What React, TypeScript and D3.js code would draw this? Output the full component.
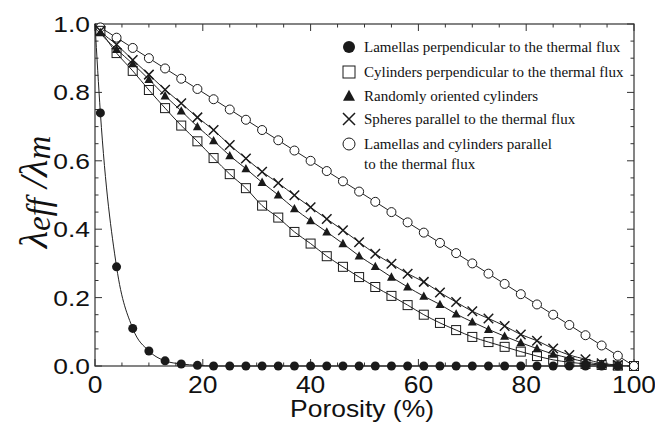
import React from "react";
import * as d3 from "d3";

// porosity (%) positions of the markers
const porosity = [1, 4, 7, 10, 13, 16, 19, 22, 25, 28, 31, 34, 37, 40, 43, 46, 49, 52, 55, 58, 61, 64, 67, 70, 73, 76, 79, 82, 85, 88, 91, 94, 97];
const porosityEnd = [...porosity, 100];

const lamellasPerp = [0.74, 0.29, 0.11, 0.044, 0.015, 0.006, 0.002, 0, 0, 0, 0, 0, 0, 0, 0, 0, 0, 0, 0, 0, 0, 0, 0, 0, 0, 0, 0, 0, 0, 0, 0, 0, 0];
const cylindersPerp = [0.98, 0.915, 0.863, 0.807, 0.754, 0.703, 0.657, 0.608, 0.561, 0.52, 0.469, 0.434, 0.392, 0.358, 0.321, 0.29, 0.26, 0.231, 0.205, 0.178, 0.15, 0.126, 0.105, 0.085, 0.07, 0.056, 0.042, 0.029, 0.018, 0.011, 0.006, 0.003, 0.001, 0];
const randomCylinders = [0.975, 0.926, 0.884, 0.838, 0.79, 0.746, 0.7, 0.659, 0.615, 0.577, 0.537, 0.5, 0.46, 0.425, 0.392, 0.358, 0.322, 0.291, 0.26, 0.231, 0.204, 0.18, 0.152, 0.129, 0.107, 0.087, 0.068, 0.051, 0.035, 0.023, 0.012, 0.005, 0.002];
const spheresPar = [0.98, 0.94, 0.895, 0.852, 0.808, 0.768, 0.727, 0.69, 0.646, 0.607, 0.568, 0.535, 0.499, 0.464, 0.43, 0.397, 0.362, 0.328, 0.299, 0.27, 0.246, 0.215, 0.187, 0.16, 0.139, 0.117, 0.092, 0.074, 0.051, 0.032, 0.02, 0.008, 0.003];
const lamCylPar = [0.99, 0.96, 0.93, 0.9, 0.87, 0.84, 0.81, 0.78, 0.75, 0.72, 0.69, 0.66, 0.63, 0.6, 0.57, 0.54, 0.51, 0.48, 0.45, 0.42, 0.39, 0.36, 0.33, 0.3, 0.27, 0.24, 0.21, 0.18, 0.15, 0.12, 0.09, 0.06, 0.03, 0];

const xTicks = [0, 20, 40, 60, 80, 100];
const yTicks = [0, 0.2, 0.4, 0.6, 0.8, 1.0];
const yTickLabels = ["0.0", "0.2", "0.4", "0.6", "0.8", "1.0"];
const legendLabels = [
  ["Lamellas perpendicular to the thermal flux"],
  ["Cylinders perpendicular to the thermal flux"],
  ["Randomly oriented cylinders"],
  ["Spheres parallel to the thermal flux"],
  ["Lamellas and cylinders parallel", "to the thermal flux"],
];
const startPoint: [number, number] = [0, 1];

type Kind = "dot" | "square" | "triangle" | "cross" | "circle";

const INK = "#1a1a1a";

function Marker({ kind, cx, cy, s }: { kind: Kind; cx: number; cy: number; s: number }) {
  const h = s / 2;
  if (kind === "dot") return <circle cx={cx} cy={cy} r={h} fill={INK} />;
  if (kind === "circle") return <circle cx={cx} cy={cy} r={h} fill="#fff" stroke={INK} strokeWidth={1} />;
  if (kind === "square")
    return <rect x={cx - h} y={cy - h} width={s} height={s} fill="none" stroke={INK} strokeWidth={1} />;
  if (kind === "triangle")
    return <path d={`M${cx},${cy - h * 1.05}L${cx + h},${cy + h * 0.8}L${cx - h},${cy + h * 0.8}Z`} fill={INK} />;
  return (
    <path
      d={`M${cx - h},${cy - h}L${cx + h},${cy + h}M${cx - h},${cy + h}L${cx + h},${cy - h}`}
      stroke={INK}
      strokeWidth={1.5}
      fill="none"
    />
  );
}

export default function App() {
  const W = 655;
  const H = 423;
  const x = d3.scaleLinear().domain([0, 100]).range([95, 634]);
  const y = d3.scaleLinear().domain([0, 1]).range([366, 24]);

  const line = d3
    .line<[number, number]>()
    .x((d) => x(d[0]))
    .y((d) => y(d[1]))
    .curve(d3.curveMonotoneX);

  const series: { kind: Kind; xs: number[]; ys: number[] }[] = [
    { kind: "circle", xs: porosityEnd, ys: lamCylPar },
    { kind: "square", xs: porosityEnd, ys: cylindersPerp },
    { kind: "cross", xs: porosity, ys: spheresPar },
    { kind: "triangle", xs: porosity, ys: randomCylinders },
    { kind: "dot", xs: porosity, ys: lamellasPerp },
  ];

  const xMinor = d3.range(0, 101, 5);
  const yMinor = d3.range(0, 1.001, 0.05);
  const [x0, x1] = x.range();
  const [y0, y1] = y.range();

  const legendKinds: Kind[] = ["dot", "square", "triangle", "cross", "circle"];
  const legendY = [47, 72, 96, 119, 144];

  return (
    <svg width={W} height={H} style={{ position: "absolute", left: 0, top: 0, background: "#fff" }}>
      <rect width={W} height={H} fill="#fff" />
      {/* frame */}
      <rect x={x0} y={y1} width={x1 - x0} height={y0 - y1} fill="none" stroke="#333" strokeWidth={1.2} />
      {/* ticks */}
      {xMinor.map((v) => {
        const major = v % 20 === 0;
        const len = major ? 7 : 3.5;
        return (
          <g key={"xt" + v} stroke="#333" strokeWidth={1}>
            <line x1={x(v)} x2={x(v)} y1={y0} y2={y0 - len} />
            <line x1={x(v)} x2={x(v)} y1={y1} y2={y1 + len} />
          </g>
        );
      })}
      {yMinor.map((v, i) => {
        const major = i % 4 === 0;
        const len = major ? 7 : 3.5;
        return (
          <g key={"yt" + i} stroke="#333" strokeWidth={1}>
            <line x1={x0} x2={x0 + len} y1={y(v)} y2={y(v)} />
            <line x1={x1} x2={x1 - len} y1={y(v)} y2={y(v)} />
          </g>
        );
      })}
      {/* tick labels */}
      {xTicks.map((v) => (
        <text
          key={"xl" + v}
          transform={`translate(${x(v)},393) scale(1.15,1)`}
          textAnchor="middle"
          fontFamily="Liberation Sans, Arial, sans-serif"
          fontSize={23}
          fill="#111"
        >
          {v}
        </text>
      ))}
      {yTicks.map((v, i) => (
        <text
          key={"yl" + i}
          transform={`translate(90,${y(v) + 8}) scale(1.2,1)`}
          textAnchor="end"
          fontFamily="Liberation Sans, Arial, sans-serif"
          fontSize={22}
          fill="#111"
        >
          {yTickLabels[i]}
        </text>
      ))}
      {/* axis titles */}
      <text
        transform={`translate(362,417) scale(1.15,1)`}
        textAnchor="middle"
        fontFamily="Liberation Sans, Arial, sans-serif"
        fontSize={23}
        fill="#111"
      >
        Porosity (%)
      </text>
      <text
        transform="translate(47,192) rotate(-90)"
        textAnchor="middle"
        fontFamily="Liberation Serif, Times New Roman, serif"
        fontStyle="italic"
        fontSize={40}
        fill="#111"
      >
        <tspan>λ</tspan>
        <tspan fontSize={33} dy={3}>eff</tspan>
        <tspan dy={-3}> /</tspan>
        <tspan>λ</tspan>
        <tspan fontSize={33} dy={3}>m</tspan>
      </text>
      {/* lines */}
      {series.map((s, i) => (
        <path
          key={"ln" + i}
          d={line([startPoint, ...s.xs.map((xv, j) => [xv, s.ys[j]] as [number, number])]) || ""}
          fill="none"
          stroke="#222"
          strokeWidth={1}
        />
      ))}
      {/* markers */}
      {series.map((s, i) => (
        <g key={"mk" + i}>
          {s.xs.map((xv, j) => (
            <Marker key={j} kind={s.kind} cx={x(xv)} cy={y(s.ys[j])} s={s.kind === "cross" ? 9.5 : 9} />
          ))}
        </g>
      ))}
      {/* legend */}
      {legendKinds.map((k, i) => (
        <g key={"lg" + i}>
          <Marker kind={k} cx={349} cy={legendY[i]} s={12} />
          {legendLabels[i].map((t, j) => (
            <text
              key={j}
              x={364}
              y={legendY[i] + 5 + j * 20}
              fontFamily="Liberation Serif, Times New Roman, serif"
              fontSize={15}
              fill="#111"
            >
              {t}
            </text>
          ))}
        </g>
      ))}
    </svg>
  );
}
